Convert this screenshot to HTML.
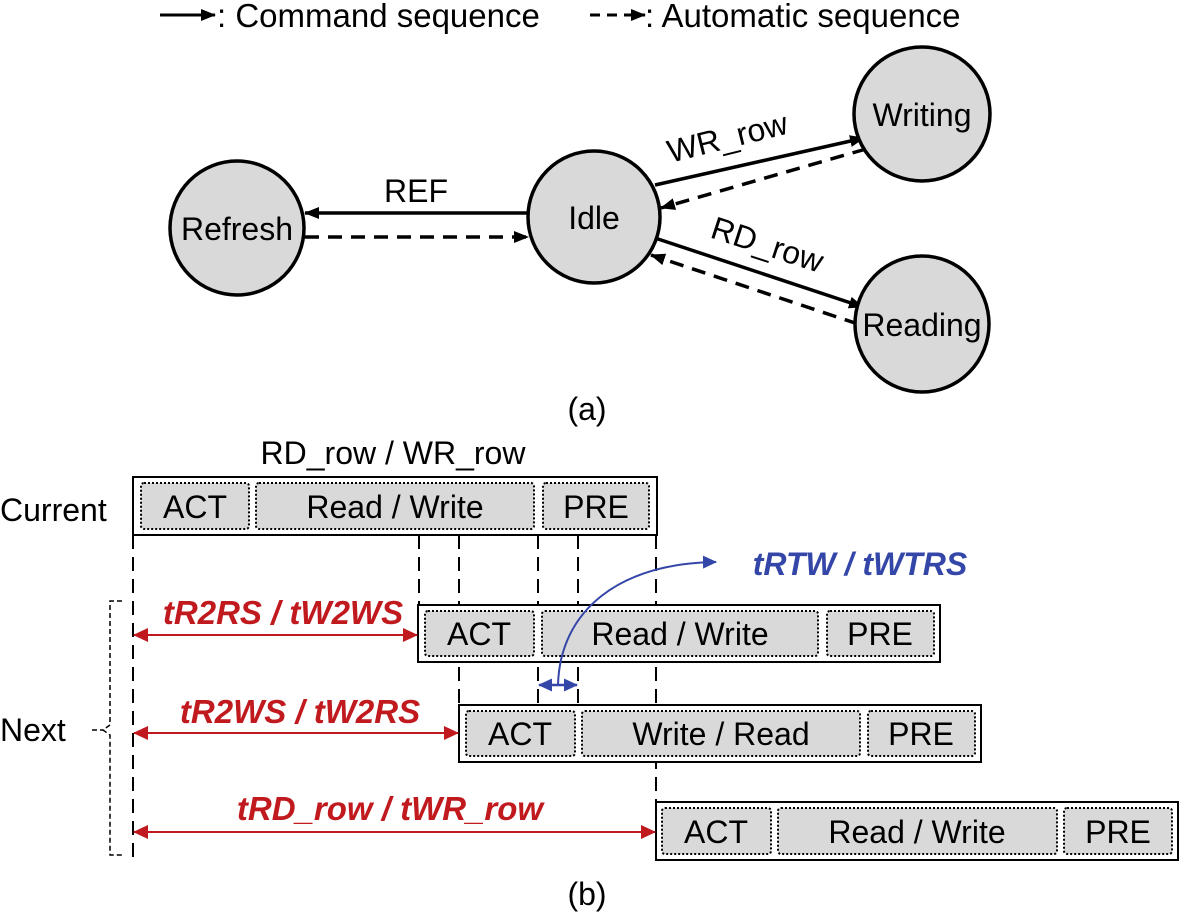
<!DOCTYPE html>
<html><head><style>body{margin:0;background:#fff}svg{display:block}</style></head><body>
<svg width="1181" height="915" viewBox="0 0 1181 915" xmlns="http://www.w3.org/2000/svg" font-family="Liberation Sans, Arial, sans-serif">
<defs>
<marker id="akb" markerWidth="15" markerHeight="12" refX="14" refY="6" orient="auto" markerUnits="userSpaceOnUse"><path d="M0,0 L15,6 L0,12 z" fill="#000"/></marker>
<marker id="ar" markerWidth="15" markerHeight="14" refX="14" refY="7" orient="auto-start-reverse" markerUnits="userSpaceOnUse"><path d="M0,0 L15,7 L0,14 z" fill="#c0191e"/></marker>
<marker id="ab" markerWidth="14" markerHeight="13" refX="13" refY="6.5" orient="auto-start-reverse" markerUnits="userSpaceOnUse"><path d="M0,0 L14,6.5 L0,13 z" fill="#3447a8"/></marker>
</defs>
<!-- legend -->
<line x1="160" y1="15" x2="215" y2="15" stroke="#000" stroke-width="3" marker-end="url(#akb)"/>
<text x="217" y="27" font-size="33">: Command sequence</text>
<line x1="590" y1="15" x2="645" y2="15" stroke="#000" stroke-width="3" stroke-dasharray="10,7" marker-end="url(#akb)"/>
<text x="645" y="27" font-size="33">: Automatic sequence</text>
<!-- arrows part a -->
<g stroke="#000" stroke-width="3.5">
<line x1="528" y1="213" x2="305" y2="213" marker-end="url(#akb)"/>
<line x1="305" y1="237" x2="528" y2="237" stroke-dasharray="14,9" marker-end="url(#akb)"/>
<line x1="655" y1="185" x2="864" y2="138" marker-end="url(#akb)"/>
<line x1="866" y1="149" x2="661" y2="208" stroke-dasharray="14,9" marker-end="url(#akb)"/>
<line x1="655" y1="238" x2="863" y2="307" marker-end="url(#akb)"/>
<line x1="858" y1="324" x2="651" y2="255" stroke-dasharray="14,9" marker-end="url(#akb)"/>
</g>
<g fill="#d9d9d9" stroke="#000" stroke-width="3.5">
<ellipse cx="237" cy="228" rx="67" ry="67"/>
<ellipse cx="594" cy="217" rx="66" ry="66"/>
<ellipse cx="922" cy="114" rx="68" ry="67"/>
<ellipse cx="922" cy="324" rx="67" ry="68"/>
</g>
<g font-size="32" text-anchor="middle">
<text x="237" y="240">Refresh</text>
<text x="594" y="229">Idle</text>
<text x="922" y="126">Writing</text>
<text x="922" y="336">Reading</text>
<text x="416" y="202">REF</text>
<text x="730" y="148" transform="rotate(-14 730 148)">WR_row</text>
<text x="764" y="255" transform="rotate(18 764 255)">RD_row</text>
<text x="587" y="420">(a)</text>
<text x="393" y="464">RD_row / WR_row</text>
<text x="587" y="905">(b)</text>
</g>
<text x="0" y="521" font-size="32">Current</text>
<text x="0" y="741" font-size="32">Next</text>
<!-- dashed verticals -->
<g stroke="#000" stroke-width="2" stroke-dasharray="14,8">
<line x1="133" y1="535" x2="133" y2="862"/>
<line x1="419" y1="535" x2="419" y2="605"/>
<line x1="459" y1="535" x2="459" y2="705"/>
<line x1="538" y1="535" x2="538" y2="705"/>
<line x1="578" y1="535" x2="578" y2="705"/>
<line x1="656" y1="535" x2="656" y2="802"/>
</g>
<!-- brace -->
<path d="M122,601 H110 V725 L103,730 L110,735 V855 H122" fill="none" stroke="#000" stroke-width="1.5" stroke-dasharray="5,3"/>
<line x1="92" y1="730" x2="103" y2="730" stroke="#000" stroke-width="1.5" stroke-dasharray="5,3"/>
<!-- boxes -->
<g stroke="#000">
<rect x="133" y="477" width="524" height="58" fill="#fff" stroke-width="2"/>
<rect x="418" y="605" width="522" height="57" fill="#fff" stroke-width="2"/>
<rect x="459" y="705" width="522" height="57" fill="#fff" stroke-width="2"/>
<rect x="656" y="802" width="522" height="58" fill="#fff" stroke-width="2"/>
</g>
<g fill="#d9d9d9" stroke="#000" stroke-width="2" stroke-dasharray="2,2">
<rect x="141" y="483" width="108" height="46" rx="3"/>
<rect x="256" y="483" width="278" height="46" rx="3"/>
<rect x="543" y="483" width="106" height="46" rx="3"/>
<rect x="425" y="611" width="109" height="45" rx="3"/>
<rect x="542" y="611" width="276" height="45" rx="3"/>
<rect x="827" y="611" width="107" height="45" rx="3"/>
<rect x="466" y="711" width="109" height="45" rx="3"/>
<rect x="582" y="711" width="278" height="45" rx="3"/>
<rect x="868" y="711" width="107" height="45" rx="3"/>
<rect x="662" y="808" width="109" height="46" rx="3"/>
<rect x="778" y="808" width="279" height="46" rx="3"/>
<rect x="1064" y="808" width="108" height="46" rx="3"/>
</g>
<g font-size="32" text-anchor="middle">
<text x="195" y="518">ACT</text><text x="395" y="518">Read / Write</text><text x="596" y="518">PRE</text>
<text x="479" y="645">ACT</text><text x="680" y="645">Read / Write</text><text x="880" y="645">PRE</text>
<text x="520" y="745">ACT</text><text x="721" y="745">Write / Read</text><text x="921" y="745">PRE</text>
<text x="716" y="843">ACT</text><text x="917" y="843">Read / Write</text><text x="1118" y="843">PRE</text>
</g>
<!-- red arrows -->
<g stroke="#c0191e" stroke-width="2">
<line x1="134" y1="635" x2="417" y2="635" marker-start="url(#ar)" marker-end="url(#ar)"/>
<line x1="134" y1="733" x2="458" y2="733" marker-start="url(#ar)" marker-end="url(#ar)"/>
<line x1="134" y1="832" x2="655" y2="832" marker-start="url(#ar)" marker-end="url(#ar)"/>
</g>
<g fill="#c0191e" font-size="33" font-weight="bold" font-style="italic" text-anchor="middle">
<text x="283" y="624">tR2RS / tW2WS</text>
<text x="300" y="723">tR2WS / tW2RS</text>
<text x="390" y="820">tRD_row / tWR_row</text>
</g>
<!-- blue -->
<line x1="539" y1="685" x2="577" y2="685" stroke="#3447a8" stroke-width="2.5" marker-start="url(#ab)" marker-end="url(#ab)"/>
<path d="M558,685 C560,610 620,563 716,562" fill="none" stroke="#3447a8" stroke-width="2" marker-end="url(#ab)"/>
<text x="860" y="575" fill="#3447a8" font-size="32" font-weight="bold" font-style="italic" text-anchor="middle">tRTW / tWTRS</text>
</svg>
</body></html>
